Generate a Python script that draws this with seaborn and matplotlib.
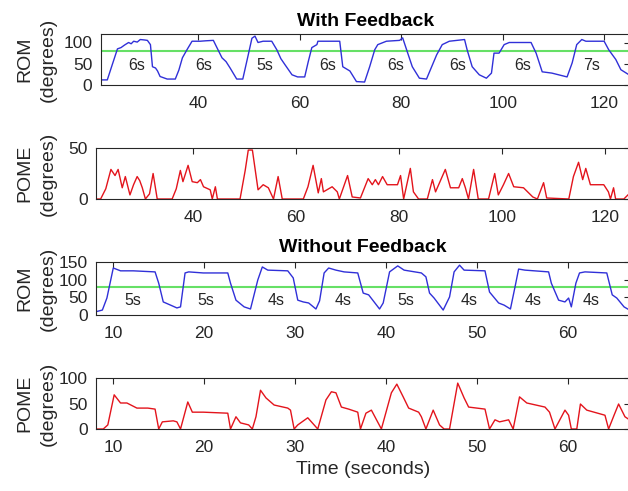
import numpy as np
import pandas as pd
import matplotlib
matplotlib.use("Agg")
import matplotlib.pyplot as plt
import seaborn as sns

sns.set_theme(style="white")
plt.rcParams['font.family'] = ['Liberation Sans', 'DejaVu Sans']

# ---- data ----
# with feedback, ROM (degrees)
fb_rom_t = [20.7, 22.1, 23.0, 24.1, 24.8, 25.5, 26.3, 26.8, 27.3, 28.0, 28.6, 29.4, 30.0, 30.6, 31.0,
            31.6, 32.0, 32.5, 33.9, 35.5, 36.2, 36.9, 37.8, 38.8, 40.4, 41.5, 43.0, 43.7, 44.7, 45.5,
            46.3, 47.6, 48.8, 49.8, 50.6, 51.2, 51.8, 52.8, 54.5, 55.5, 56.3, 57.1, 58.5, 59.6, 61.0,
            61.7, 62.4, 63.4, 63.6, 65.9, 67.9, 68.5, 69.9, 71.2, 72.8, 73.8, 74.8, 75.4, 77.1, 79.7,
            80.3, 81.3, 82.2, 83.6, 85.0, 87.0, 88.1, 89.5, 92.5, 93.0, 94.0, 95.4, 96.8, 97.8, 98.3,
            99.3, 100.3, 101.3, 105.6, 106.6, 107.8, 109.7, 112.7, 113.7, 114.6, 115.6, 116.4, 120.0,
            120.9, 122.3, 123.3, 124.9]
fb_rom_v = [12, 12, 45, 85, 88, 94, 100, 97, 103, 101, 107, 106, 105, 95, 43,
            40, 33, 20, 14, 14, 35, 64, 83, 103, 103, 104, 105, 88, 64, 55,
            40, 14, 14, 67, 110, 115, 100, 103, 103, 83, 62, 48, 24, 19, 19,
            55, 88, 95, 103, 103, 103, 43, 33, 8, 7, 43, 83, 95, 103, 105,
            111, 75, 43, 16, 14, 71, 95, 103, 107, 83, 43, 24, 16, 28, 75,
            75, 95, 100, 100, 75, 31, 28, 19, 52, 95, 107, 103, 103,
            83, 60, 36, 24]

# with feedback, POME (degrees)
fb_pome_t = [20.8, 22.0, 23.0, 24.0, 24.8, 25.4, 26.2, 26.8, 27.7, 28.4, 29.1, 29.6, 30.1, 30.7, 31.5,
             32.2, 33.0, 35.9, 36.7, 37.5, 38.0, 39.0, 39.8, 40.8, 41.4, 42.0, 43.3, 43.7, 44.3, 44.7,
             49.1, 50.1, 50.7, 51.5, 52.6, 53.6, 54.6, 55.6, 56.5, 57.3, 61.4, 62.3, 63.3, 64.3, 64.9,
             65.3, 67.0, 68.0, 68.4, 70.0, 70.9, 72.5, 74.0, 74.8, 75.4, 76.0, 76.8, 77.7, 79.7, 80.3,
             80.9, 82.2, 82.8, 83.8, 85.5, 86.5, 87.1, 89.0, 90.0, 91.6, 92.3, 92.9, 93.5, 94.5, 95.4,
             97.4, 98.6, 99.3, 100.3, 101.3, 102.3, 104.2, 106.0, 106.9, 108.1, 108.7, 113.0, 113.9,
             114.9, 115.7, 116.3, 117.2, 119.8, 120.7, 121.1, 121.7, 122.1, 123.7, 124.9]
fb_pome_v = [0, 0, 10, 29, 23, 29, 11, 22, 4, 14, 22, 18, 11, 0, 5,
             25, 0, 0, 10, 28, 17, 33, 17, 16, 19, 12, 9, 0, 12, 0,
             0, 28, 48, 48, 9, 14, 11, 0, 22, 0, 0, 12, 33, 6, 20,
             7, 12, 7, 0, 23, 2, 1, 20, 14, 19, 14, 22, 14, 14, 23,
             0, 30, 7, 0, 0, 19, 7, 29, 11, 11, 20, 11, 0, 29, 0,
             0, 25, 4, 14, 25, 12, 11, 2, 0, 16, 1, 0, 22,
             36, 19, 30, 14, 14, 7, 0, 11, 0, 0, 6]

# without feedback, ROM (degrees)
nf_rom_t = [8.2, 8.8, 9.3, 10.0, 10.8, 12.2, 14.6, 15.0, 15.5, 16.3, 17.0, 17.4, 17.9, 18.3, 19.9,
            22.6, 22.9, 23.5, 24.4, 25.1, 25.9, 26.4, 27.0, 29.2, 29.8, 30.3, 30.9, 31.5, 32.3, 32.7,
            33.2, 33.7, 34.5, 35.4, 36.9, 37.5, 38.1, 38.7, 39.3, 39.7, 40.4, 41.3, 42.0, 43.9, 44.4,
            44.8, 45.3, 46.3, 47.0, 47.5, 48.1, 48.6, 50.9, 51.4, 52.4, 53.0, 53.7, 54.2, 54.6, 55.3,
            57.9, 58.2, 59.0, 59.7, 60.1, 60.4, 60.9, 61.3, 61.9, 64.3, 64.9, 65.4, 66.2, 66.8]
nf_rom_v = [10, 14, 48, 133, 125, 125, 122, 90, 37, 28, 20, 23, 119, 122, 119,
            119, 90, 42, 23, 17, 99, 136, 127, 125, 105, 42, 37, 34, 17, 40,
            119, 133, 127, 122, 119, 62, 57, 37, 17, 34, 122, 139, 127, 119, 108,
            62, 48, 14, 51, 122, 141, 127, 125, 65, 34, 28, 17, 79, 130, 127,
            122, 90, 42, 37, 48, 23, 90, 119, 122, 119, 57, 48, 23, 14]

# without feedback, POME (degrees)
nf_pome_t = [8.2, 8.9, 9.4, 10.1, 10.8, 11.5, 12.6, 13.8, 14.6, 15.0, 15.4, 16.6, 17.0, 17.4, 18.2,
             18.7, 19.9, 22.6, 22.9, 23.5, 24.0, 24.9, 25.3, 25.7, 26.2, 26.8, 27.7, 29.2, 29.5, 29.9,
             30.3, 31.4, 32.1, 32.5, 33.4, 34.0, 34.5, 35.1, 35.9, 36.9, 37.2, 37.8, 38.4, 39.5, 40.6,
             41.2, 41.9, 42.5, 43.6, 43.9, 44.4, 45.2, 45.9, 46.4, 47.0, 47.9, 48.6, 49.1, 50.9, 51.4,
             52.0, 52.5, 53.5, 54.0, 54.7, 55.5, 57.5, 58.0, 58.6, 59.7, 60.1, 60.4, 61.0, 61.4, 62.1,
             64.1, 64.5, 65.1, 65.6, 66.3, 66.8]
nf_pome_v = [0, 0, 8, 67, 51, 51, 41, 41, 39, 0, 14, 16, 14, 0, 53,
             33, 33, 31, 0, 24, 12, 8, 0, 24, 76, 61, 47, 41, 37, 0,
             8, 22, 8, 0, 57, 73, 71, 43, 39, 33, 0, 31, 37, 0, 71,
             88, 63, 41, 33, 24, 0, 37, 8, 0, 0, 90, 61, 43, 39, 0,
             18, 14, 18, 0, 63, 51, 43, 33, 0, 37, 27, 0, 0, 49, 37,
             27, 0, 27, 49, 24, 18]

target = 80
fb_cycle_t = [27.8, 41.0, 53.2, 65.5, 78.9, 91.1, 103.9, 117.6]
fb_cycle_lbl = ["6s", "6s", "5s", "6s", "6s", "6s", "6s", "7s"]
nf_cycle_t = [12.2, 20.2, 27.9, 35.3, 42.2, 49.1, 56.2, 62.6]
nf_cycle_lbl = ["5s", "5s", "4s", "4s", "5s", "4s", "4s", "4s"]

BLUE = "#3030d8"
RED = "#e3141c"
GREEN = "#66e066"
GREY = "#262626"

W, H = 628, 491
fig = plt.figure(figsize=(W / 100, H / 100), dpi=100)


def make_ax(left, top, bottom):
    return fig.add_axes([left / W, 1 - bottom / H, (629.5 - left) / W, (bottom - top) / H])


def style(ax, xlim, ylim, xt, yt, ylabel):
    ax.set_xlim(*xlim)
    ax.set_ylim(*ylim)
    ax.set_xticks(xt)
    ax.set_yticks(yt)
    ax.tick_params(direction="in", top=True, right=True, length=4, width=0.8,
                   colors=GREY, labelsize=12.5)
    ax.tick_params(axis="x", pad=8)
    ax.tick_params(axis="y", pad=6)
    for s in ax.spines.values():
        s.set_color(GREY)
        s.set_linewidth(0.8)
    ax.set_xlabel("")
    ax.set_ylabel(ylabel, fontsize=14, color=GREY, linespacing=1.5)
    ax.grid(False)


ax1 = make_ax(100.7, 34, 85)
ax2 = make_ax(96, 148, 199)
ax3 = make_ax(96, 262, 315)
ax4 = make_ax(96, 378, 429)

sns.lineplot(x=fb_rom_t, y=fb_rom_v, ax=ax1, color=BLUE, linewidth=1, estimator=None)
ax1.axhline(target, color=GREEN, linewidth=1.5, zorder=1)
for t, s in zip(fb_cycle_t, fb_cycle_lbl):
    ax1.text(t, 45, s, ha="center", va="center", fontsize=11.5, color=GREY)
style(ax1, (20.8, 125), (0, 120), [40, 60, 80, 100, 120], [0, 50, 100], "ROM\n(degrees)")
ax1.set_title("With Feedback", fontsize=14, fontweight="bold", color="black", pad=6)

sns.lineplot(x=fb_pome_t, y=fb_pome_v, ax=ax2, color=RED, linewidth=1, estimator=None)
style(ax2, (21.1, 124.8), (0, 50), [40, 60, 80, 100, 120], [0, 50], "POME\n(degrees)")

sns.lineplot(x=nf_rom_t, y=nf_rom_v, ax=ax3, color=BLUE, linewidth=1, estimator=None)
ax3.axhline(target, color=GREEN, linewidth=1.5, zorder=1)
for t, s in zip(nf_cycle_t, nf_cycle_lbl):
    ax3.text(t, 42, s, ha="center", va="center", fontsize=11.5, color=GREY)
style(ax3, (8.1, 66.8), (0, 150), [10, 20, 30, 40, 50, 60], [0, 50, 100, 150], "ROM\n(degrees)")
ax3.set_title("Without Feedback", fontsize=14, fontweight="bold", color="black", pad=7)

sns.lineplot(x=nf_pome_t, y=nf_pome_v, ax=ax4, color=RED, linewidth=1, estimator=None)
style(ax4, (8.1, 66.8), (0, 100), [10, 20, 30, 40, 50, 60], [0, 50, 100], "POME\n(degrees)")
ax4.set_xlabel("Time (seconds)", fontsize=14, color=GREY, labelpad=4)

# put the two-line y labels where the reference has them
for ax, left in [(ax1, 100.7), (ax2, 96), (ax3, 96), (ax4, 96)]:
    ax.yaxis.set_label_coords((57 - left) / (629.5 - left), 0.5)

fig.savefig("out.png", dpi=100)
